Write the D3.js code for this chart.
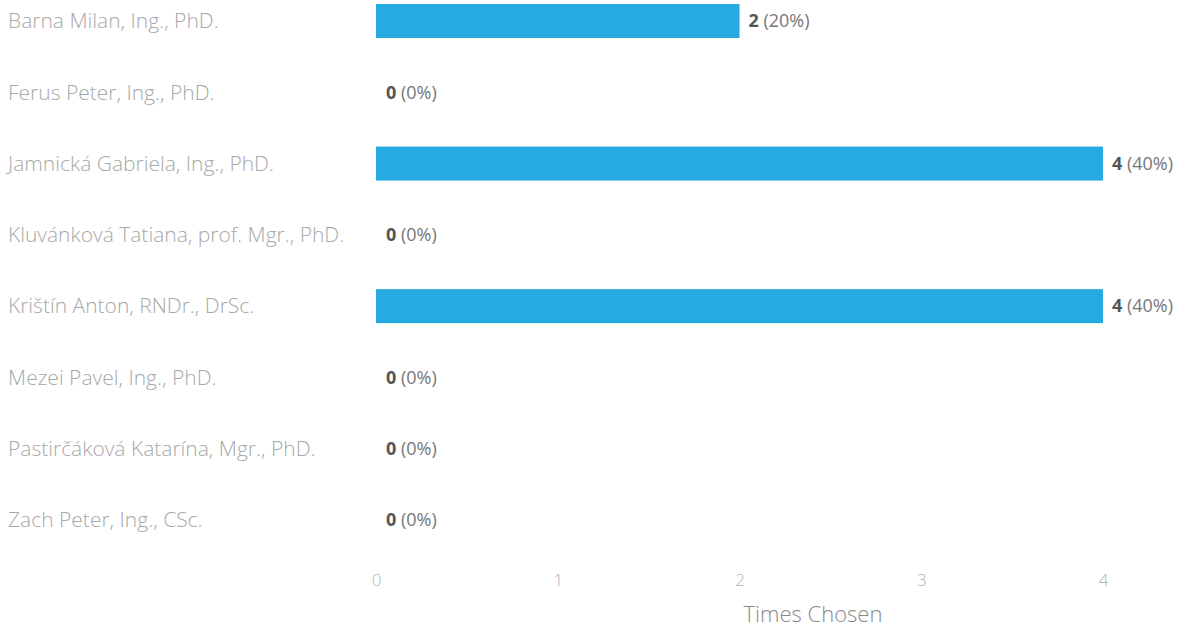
<!DOCTYPE html>
<html>
<head>
<meta charset="utf-8">
<script src="https://cdn.jsdelivr.net/npm/d3@7"></script>
<style>
  body { margin: 0; background: #fff; }
  text { font-family: "Open Sans", sans-serif; }
</style>
</head>
<body>
<script>
var width = 1182, height = 628;

var names = [
  "Barna Milan, Ing., PhD.",
  "Ferus Peter, Ing., PhD.",
  "Jamnická Gabriela, Ing., PhD.",
  "Kluvánková Tatiana, prof. Mgr., PhD.",
  "Krištín Anton, RNDr., DrSc.",
  "Mezei Pavel, Ing., PhD.",
  "Pastirčáková Katarína, Mgr., PhD.",
  "Zach Peter, Ing., CSc."
];
var counts = [2, 0, 4, 0, 4, 0, 0, 0];
var percents = [20, 0, 40, 0, 40, 0, 0, 0];
var ticks = [0, 1, 2, 3, 4];

var rows = names.map(function(n, i) { return {name: n, count: counts[i], pct: percents[i]}; });

var svg = d3.select("body").append("svg")
    .attr("width", width).attr("height", height);

var x = d3.scaleLinear().domain([0, 4]).range([376, 1103]);
var y = d3.scalePoint().domain(names).range([21, 520]);
var barH = 34;

svg.selectAll(".name").data(rows).enter().append("text")
    .attr("class", "name")
    .attr("x", 8)
    .attr("y", function(d) { return y(d.name); })
    .attr("dy", "0.35em")
    .attr("font-size", 21)
    .attr("font-weight", 300)
    .attr("fill", "#a8a8a8")
    .text(function(d) { return d.name; });

svg.selectAll(".bar").data(rows.filter(function(d) { return d.count > 0; })).enter().append("rect")
    .attr("class", "bar")
    .attr("x", x(0))
    .attr("y", function(d) { return y(d.name) - barH / 2; })
    .attr("width", function(d) { return x(d.count) - x(0); })
    .attr("height", barH)
    .attr("fill", "#27a9e1");

var val = svg.selectAll(".val").data(rows).enter().append("text")
    .attr("class", "val")
    .attr("x", function(d) { return x(d.count) + (d.count > 0 ? 9 : 10); })
    .attr("y", function(d) { return y(d.name); })
    .attr("dy", "0.35em")
    .attr("font-size", 18);
val.append("tspan").attr("font-weight", "bold").attr("fill", "#555")
    .text(function(d) { return d.count; });
val.append("tspan").attr("fill", "#777")
    .text(function(d) { return " (" + d.pct + "%)"; });

var axis = svg.append("g").attr("transform", "translate(0,580)")
    .call(d3.axisBottom(x).tickValues(ticks).tickSize(0).tickPadding(0).tickFormat(d3.format("d")));
axis.select(".domain").remove();
axis.selectAll("text")
    .attr("font-family", "Open Sans, sans-serif")
    .attr("font-size", 17)
    .attr("font-weight", 300)
    .attr("fill", "#b0b0b0")
    .attr("dy", "0.35em");

svg.append("text")
    .attr("x", 813)
    .attr("y", 614)
    .attr("dy", "0.35em")
    .attr("text-anchor", "middle")
    .attr("font-size", 22)
    .attr("font-weight", 300)
    .attr("fill", "#888")
    .text("Times Chosen");
</script>
</body>
</html>
